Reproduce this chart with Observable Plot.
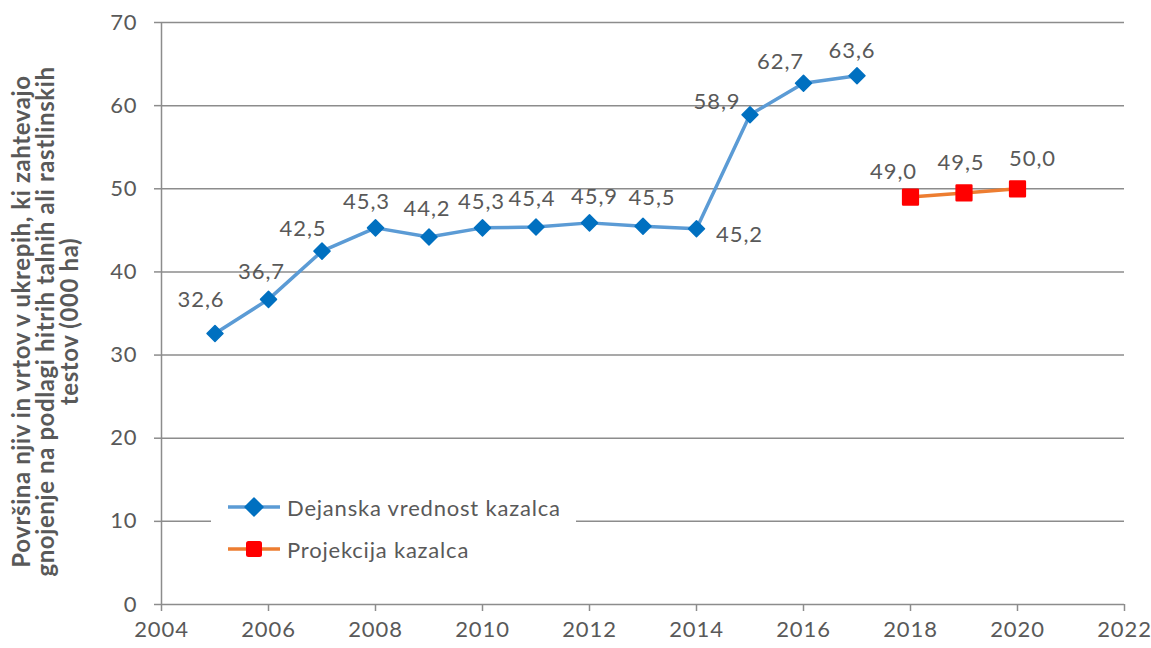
<!DOCTYPE html>
<html>
<head>
<meta charset="utf-8">
<script src="https://cdn.jsdelivr.net/npm/d3@7"></script>
<script src="https://cdn.jsdelivr.net/npm/@observablehq/plot@0.6"></script>
<style>
  html, body { margin: 0; padding: 0; background: #fff; }
  #wrap { position: relative; width: 1151px; height: 648px; font-family: Lato, "Open Sans", sans-serif; }
  #wrap svg text { letter-spacing: 0.9px; }
  #legend { position: absolute; left: 211px; top: 488px; width: 365px; height: 82px; background: #fff; }
  .row { position: absolute; left: 17px; height: 24px; display: flex; align-items: center; font-size: 22px; letter-spacing: 0.8px; color: #595959; }
  .row svg { margin-right: 5px; }
</style>
</head>
<body>
<div id="wrap"></div>
<script>
const years = [2005, 2006, 2007, 2008, 2009, 2010, 2011, 2012, 2013, 2014, 2015, 2016, 2017];
const actual = [32.6, 36.7, 42.5, 45.3, 44.2, 45.3, 45.4, 45.9, 45.5, 45.2, 58.9, 62.7, 63.6];
const projYears = [2018, 2019, 2020];
const projection = [49.0, 49.5, 50.0];
const xTicks = [2004, 2006, 2008, 2010, 2012, 2014, 2016, 2018, 2020, 2022];
const yTicks = [0, 10, 20, 30, 40, 50, 60, 70];
const seriesNames = ["Dejanska vrednost kazalca", "Projekcija kazalca"];
const yTitle = "Površina njiv in vrtov v ukrepih, ki zahtevajo\ngnojenje na podlagi hitrih talnih ali rastlinskih\ntestov (000 ha)";

const actualData = years.map((year, i) => ({year, value: actual[i]}));
const projData = projYears.map((year, i) => ({year, value: projection[i]}));

// label nudges (styling), by year
const nudge = {
  2005: [-14, -34], 2006: [-7, -27], 2007: [-19, -22], 2008: [-9, -26], 2009: [-2, -28],
  2010: [-1, -26], 2011: [-4, -28], 2012: [5, -26], 2013: [9, -28], 2014: [43, 6],
  2015: [-33, -13], 2016: [-23, -21], 2017: [-5, -25],
  2018: [-17, -25], 2019: [-3, -30], 2020: [15, -30]
};
const fmt = v => d3.format(".1f")(v).replace(".", ",");

const gray = "#8c8c8c";
const textColor = "#595959";

const labelMarks = [...actualData, ...projData].map(d => Plot.text([d], {
  x: "year", y: "value", text: dd => fmt(dd.value),
  dx: nudge[d.year][0], dy: nudge[d.year][1],
  fill: textColor, fontSize: 22, textAnchor: "middle"
}));

const chart = Plot.plot({
  width: 1151,
  height: 648,
  marginLeft: 161,
  marginRight: 27,
  marginTop: 22,
  marginBottom: 44,
  style: {fontFamily: "Lato, 'Open Sans', sans-serif", fontSize: "22px", color: textColor, background: "#fff"},
  x: {domain: [2004, 2022], ticks: xTicks, tickFormat: d => String(d), tickSize: 7, tickPadding: 11, label: null},
  y: {domain: [0, 70], ticks: yTicks, tickSize: 7, tickPadding: 17, label: null},
  marks: [
    Plot.ruleY(yTicks, {stroke: gray, strokeWidth: 1.5}),
    Plot.ruleX([2004], {stroke: gray, strokeWidth: 1.5}),
    Plot.axisY({ticks: yTicks, tickSize: 7, tickPadding: 17, stroke: gray, strokeWidth: 1.5, strokeOpacity: 1, fill: textColor, fontSize: 22, label: null}),
    Plot.axisX({ticks: xTicks, tickFormat: d => String(d), tickSize: 7, tickPadding: 10, stroke: gray, strokeWidth: 1.5, strokeOpacity: 1, fill: textColor, fontSize: 22, label: null}),
    Plot.line(actualData, {x: "year", y: "value", stroke: "#5B9BD5", strokeWidth: 3.5}),
    Plot.line(projData, {x: "year", y: "value", stroke: "#ED7D31", strokeWidth: 3.5}),
    Plot.dot(actualData, {x: "year", y: "value", symbol: "diamond2", r: 7.2, fill: "#0070C0", stroke: "#0070C0", strokeWidth: 1.5, strokeLinejoin: "round"}),
    Plot.dot(projData, {x: "year", y: "value", symbol: "square", r: 8.3, fill: "#FF0000", stroke: "#FF0000", strokeWidth: 2.5, strokeLinejoin: "round"}),
    ...labelMarks,
    Plot.text([yTitle], {frameAnchor: "left", dx: -115, dy: 8, rotate: -90, textAnchor: "middle", lineAnchor: "middle", lineHeight: 1.0, fontSize: 24, fontWeight: "bold", fill: textColor})
  ]
});

d3.select(chart).selectAll("g[font-weight=bold] text").style("letter-spacing", "0.6px");

const wrap = document.getElementById("wrap");
wrap.appendChild(chart);

// legend overlay inside the plot
const legend = document.createElement("div");
legend.id = "legend";
const swatches = [
  {name: seriesNames[0], line: "#5B9BD5", sym: "diamond", fill: "#0070C0"},
  {name: seriesNames[1], line: "#ED7D31", sym: "square", fill: "#FF0000"}
];
swatches.forEach((s, i) => {
  const row = document.createElement("div");
  row.className = "row";
  row.style.top = (7 + i * 42) + "px";
  const marker = s.sym === "diamond"
    ? `<path d="M26,3 L35,12 L26,21 L17,12 Z" fill="${s.fill}" stroke="${s.fill}" stroke-width="1.5" stroke-linejoin="round"/>`
    : `<rect x="18" y="4" width="16" height="16" rx="2.5" fill="${s.fill}"/>`;
  row.innerHTML = `<svg width="54" height="24"><line x1="0" y1="12" x2="52" y2="12" stroke="${s.line}" stroke-width="3.5"/>${marker}</svg><span>${s.name}</span>`;
  legend.appendChild(row);
});
wrap.appendChild(legend);
</script>
</body>
</html>
